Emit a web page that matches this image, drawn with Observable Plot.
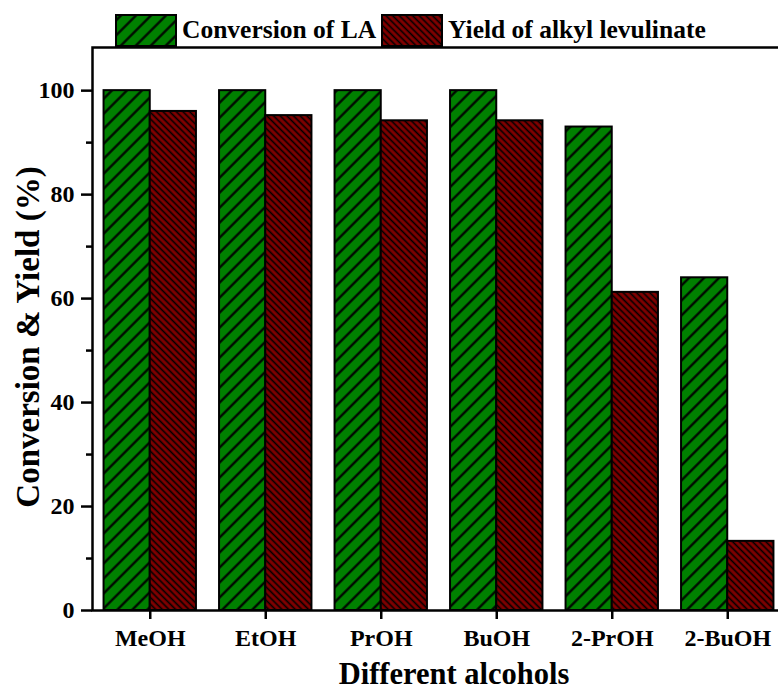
<!DOCTYPE html>
<html>
<head>
<meta charset="utf-8">
<script src="https://cdn.jsdelivr.net/npm/d3@7"></script>
<script src="https://cdn.jsdelivr.net/npm/@observablehq/plot@0.6"></script>
<style>
  html, body { margin: 0; padding: 0; background: #fff; overflow: hidden; }
  #figure { position: relative; width: 778px; height: 692px; overflow: hidden; }
  .legend {
    display: flex; align-items: center; height: 45px; padding-left: 115px;
    font: bold 25.5px "Liberation Serif", "Times New Roman", serif; color: #000;
    box-sizing: border-box; padding-top: 15px;
  }
  .legend svg { display: block; }
  .legend span { margin: 0 5px 0 5px; white-space: nowrap; }
</style>
</head>
<body>
<!-- hatch fills shared by the bars and the legend swatches -->
<svg width="0" height="0" style="position:absolute">
  <defs>
    <pattern id="hatch-conv" patternUnits="userSpaceOnUse" width="10.6" height="10.6" patternTransform="rotate(45)">
      <rect width="10.6" height="10.6" fill="#008000"></rect>
      <line x1="5.3" y1="0" x2="5.3" y2="10.6" stroke="#000" stroke-width="2.2"></line>
    </pattern>
    <pattern id="hatch-yield" patternUnits="userSpaceOnUse" width="4.7" height="4.7" patternTransform="rotate(-45)">
      <rect width="4.7" height="4.7" fill="#800000"></rect>
      <line x1="2.35" y1="0" x2="2.35" y2="4.7" stroke="#000" stroke-width="1.6"></line>
    </pattern>
  </defs>
</svg>
<div id="figure"></div>
<script>
// Categories and series
const alcohols = ["MeOH", "EtOH", "PrOH", "BuOH", "2-PrOH", "2-BuOH"];
const seriesNames = ["Conversion of LA", "Yield of alkyl levulinate"];

// Values (%)
const conversionLA = [100, 100, 100, 100, 93, 64];
const yieldAlkylLevulinate = [96, 95.2, 94.2, 94.2, 61.2, 13.3];

// Axis ticks
const yTicks = [0, 20, 40, 60, 80, 100];
const yMinorTicks = [10, 30, 50, 70, 90];

const hatchFills = ["url(#hatch-conv)", "url(#hatch-yield)"];
const barWidth = 0.4; // in category units, one bar on each side of the tick

const rows = alcohols.flatMap((name, i) => [
  {i, name, series: seriesNames[0], x1: i - barWidth, x2: i, value: conversionLA[i]},
  {i, name, series: seriesNames[1], x1: i, x2: i + barWidth, value: yieldAlkylLevulinate[i]}
]);

// Legend
const legend = document.createElement("div");
legend.className = "legend";
seriesNames.forEach((name, k) => {
  const sw = document.createElementNS("http://www.w3.org/2000/svg", "svg");
  sw.setAttribute("width", 62);
  sw.setAttribute("height", 33);
  sw.innerHTML = `<rect x="1" y="1" width="60" height="31" fill="${hatchFills[k]}" stroke="#000" stroke-width="2"></rect>`;
  const label = document.createElement("span");
  label.textContent = name;
  legend.append(sw, label);
});

const font = '"Liberation Serif", "Times New Roman", serif';

const chart = Plot.plot({
  width: 790,
  height: 647,
  marginLeft: 92,
  marginRight: 5,
  marginTop: 2,
  marginBottom: 82,
  style: {fontFamily: font, fontWeight: "bold", fontSize: "24px", color: "#000", background: "transparent", overflow: "visible", maxWidth: "none"},
  x: {domain: [-0.5, alcohols.length - 0.5], axis: null},
  y: {domain: [0, 108.3], axis: null},
  color: {type: "ordinal", domain: seriesNames, range: hatchFills},
  marks: [
    Plot.rectY(rows, {x1: "x1", x2: "x2", y: "value", fill: "series", stroke: "#000", strokeWidth: 2}),
    Plot.axisY({ticks: yTicks, tickSize: 11, tickPadding: 7, strokeWidth: 2.5, fontSize: 24, label: null}),
    Plot.axisY({ticks: yMinorTicks, tickSize: 6, tickFormat: () => "", strokeWidth: 2.5, label: null}),
    Plot.axisX({ticks: alcohols.map((_, i) => i), tickFormat: (i) => alcohols[i], tickSize: 9, tickPadding: 9, strokeWidth: 2.5, fontSize: 24, label: null}),
    Plot.text(["Different alcohols"], {frameAnchor: "bottom", dx: 15, dy: 64, fontSize: 30.5, lineAnchor: "middle", textAnchor: "middle"}),
    Plot.text(["Conversion & Yield (%)"], {frameAnchor: "left", dx: -64, dy: 8, rotate: -90, fontSize: 33, lineAnchor: "middle", textAnchor: "middle"}),
    Plot.frame({stroke: "#000", strokeWidth: 2.5})
  ]
});

const fig = document.getElementById("figure");
fig.append(legend, chart);
</script>
</body>
</html>
